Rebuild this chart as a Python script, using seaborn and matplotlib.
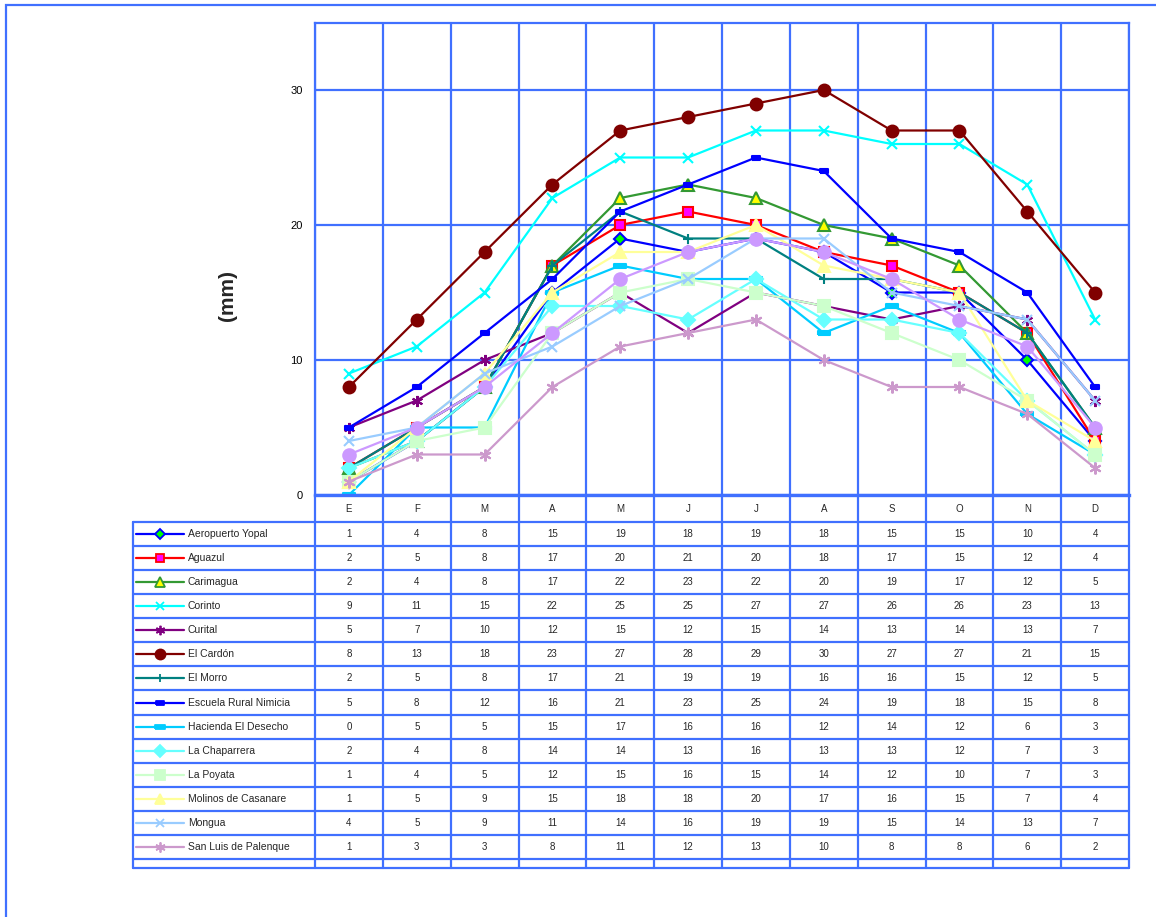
import numpy as np
import pandas as pd
import matplotlib
matplotlib.use("Agg")
import matplotlib.pyplot as plt
from matplotlib.lines import Line2D
import seaborn as sns

sns.set_theme(style="white")
plt.rcParams["font.family"] = ["Liberation Sans", "DejaVu Sans"]

# ---- data -------------------------------------------------------------
months = ["E", "F", "M", "A", "M", "J", "J", "A", "S", "O", "N", "D"]

aeropuerto_yopal = [1, 4, 8, 15, 19, 18, 19, 18, 15, 15, 10, 4]
aguazul = [2, 5, 8, 17, 20, 21, 20, 18, 17, 15, 12, 4]
carimagua = [2, 4, 8, 17, 22, 23, 22, 20, 19, 17, 12, 5]
corinto = [9, 11, 15, 22, 25, 25, 27, 27, 26, 26, 23, 13]
curital = [5, 7, 10, 12, 15, 12, 15, 14, 13, 14, 13, 7]
el_cardon = [8, 13, 18, 23, 27, 28, 29, 30, 27, 27, 21, 15]
el_morro = [2, 5, 8, 17, 21, 19, 19, 16, 16, 15, 12, 5]
escuela_nimicia = [5, 8, 12, 16, 21, 23, 25, 24, 19, 18, 15, 8]
hacienda_desecho = [0, 5, 5, 15, 17, 16, 16, 12, 14, 12, 6, 3]
la_chaparrera = [2, 4, 8, 14, 14, 13, 16, 13, 13, 12, 7, 3]
la_poyata = [1, 4, 5, 12, 15, 16, 15, 14, 12, 10, 7, 3]
molinos_casanare = [1, 5, 9, 15, 18, 18, 20, 17, 16, 15, 7, 4]
mongua = [4, 5, 9, 11, 14, 16, 19, 19, 15, 14, 13, 7]
san_luis_palenque = [1, 3, 3, 8, 11, 12, 13, 10, 8, 8, 6, 2]
sin_nombre = [3, 5, 8, 12, 16, 18, 19, 18, 16, 13, 11, 5]

station_names = [
    "Aeropuerto Yopal", "Aguazul", "Carimagua", "Corinto", "Curital",
    "El Cardón", "El Morro", "Escuela Rural Nimicia", "Hacienda El Desecho",
    "La Chaparrera", "La Poyata", "Molinos de Casanare", "Mongua",
    "San Luis de Palenque", "",
]
station_values = [
    aeropuerto_yopal, aguazul, carimagua, corinto, curital, el_cardon,
    el_morro, escuela_nimicia, hacienda_desecho, la_chaparrera, la_poyata,
    molinos_casanare, mongua, san_luis_palenque, sin_nombre,
]

# ---- styles -----------------------------------------------------------
dash_short = [(-1, -0.5), (1, -0.5), (1, 0.5), (-1, 0.5), (-1, -0.5)]
dash_long = [(-1, -0.3), (1, -0.3), (1, 0.3), (-1, 0.3), (-1, -0.3)]
asterisk = (6, 2, 0)

# (line colour, marker, size, face colour, edge colour)
styles = [
    ("#0000FF", "D", 6.5, "#00FF00", "#0000FF"),
    ("#FF0000", "s", 7.5, "#FF00FF", "#FF0000"),
    ("#339933", "^", 8.5, "#FFFF00", "#339933"),
    ("#00FFFF", "x", 7.5, "#00FFFF", "#00FFFF"),
    ("#800080", asterisk, 8.0, "#800080", "#800080"),
    ("#800000", "o", 8.5, "#800000", "#800000"),
    ("#008080", "+", 7.5, "#008080", "#008080"),
    ("#0000FF", dash_short, 6.0, "#0000FF", "#0000FF"),
    ("#00CCFF", dash_long, 9.0, "#00CCFF", "#00CCFF"),
    ("#66FFFF", "D", 7.5, "#66FFFF", "#66FFFF"),
    ("#CCFFCC", "s", 8.0, "#CCFFCC", "#CCFFCC"),
    ("#FFFF99", "^", 9.0, "#FFFF99", "#FFFF99"),
    ("#99CCFF", "x", 7.5, "#99CCFF", "#99CCFF"),
    ("#CC99CC", asterisk, 8.5, "#CC99CC", "#CC99CC"),
    ("#CC99FF", "o", 9.0, "#CC99FF", "#CC99FF"),
]

GRID = "#4070FF"
W, H = 1156, 917

# layout in pixels
PX_L, PX_R, PX_T, PX_B = 315, 1129, 22.5, 495
TBL_L, TBL_T = 133, 522
ROW_H = 24.07
LAST_ROW_H = 9.0
col_w = (PX_R - PX_L) / len(months)

fig = plt.figure(figsize=(W / 100, H / 100), dpi=100)
fig.patch.set_facecolor("white")

# overlay for frame and data table (pixel coordinates)
oax = fig.add_axes([0, 0, 1, 1], zorder=0)
oax.set_xlim(0, W)
oax.set_ylim(H, 0)
oax.axis("off")

# plot area
ax = fig.add_axes([PX_L / W, 1 - PX_B / H, (PX_R - PX_L) / W, (PX_B - PX_T) / H],
                  zorder=2)
ax.set_facecolor("none")

x_idx = np.arange(len(months))
for vals, (lc, mk, ms, fc, ec) in zip(station_values, styles):
    df = pd.DataFrame({"mes": x_idx, "mm": vals})
    sns.lineplot(data=df, x="mes", y="mm", ax=ax, color=lc, linewidth=1.6,
                 marker=mk, markersize=ms, markerfacecolor=fc,
                 markeredgecolor=ec, markeredgewidth=1.5, legend=False)

ax.set_xlim(-0.5, len(months) - 0.5)
ax.set_ylim(0, 35)
ax.set_xticks(np.arange(len(months) + 1) - 0.5)
ax.set_xticklabels([])
ax.set_yticks([0, 10, 20, 30])
ax.tick_params(axis="x", length=0)
ax.tick_params(axis="y", direction="out", length=5, width=1.5, color=GRID,
               labelsize=8, labelcolor="black", pad=4)
ax.grid(True, color=GRID, linewidth=1.6)
ax.set_axisbelow(True)
for sp in ax.spines.values():
    sp.set_visible(True)
    sp.set_color(GRID)
    sp.set_linewidth(1.6)
ax.spines["bottom"].set_linewidth(2.4)
ax.set_xlabel("")
ax.set_ylabel("")

fig.text(228 / W, 1 - 295 / H, "(mm)", rotation=90, ha="center", va="center",
         fontsize=15, fontweight="bold")

# outer frame
oax.plot([6, 6, W + 5], [H + 5, 5, 5], color=GRID, linewidth=1.6,
         solid_joinstyle="miter")

# data table
n_rows = len(station_names)
row_tops = [TBL_T + k * ROW_H for k in range(n_rows)]
tbl_bottom = row_tops[-1] + LAST_ROW_H
lw_t = 1.6

for k in range(len(months) + 1):
    xk = PX_L + k * col_w
    oax.plot([xk, xk], [PX_B, tbl_bottom], color=GRID, linewidth=lw_t)
oax.plot([TBL_L, TBL_L], [TBL_T, tbl_bottom], color=GRID, linewidth=lw_t)
for yk in row_tops + [tbl_bottom]:
    oax.plot([TBL_L, PX_R], [yk, yk], color=GRID, linewidth=lw_t)

for j, m in enumerate(months):
    oax.text(PX_L + (j + 0.5) * col_w, (PX_B + TBL_T) / 2 + 1, m,
             ha="center", va="center", fontsize=7)

for i, (name, vals, (lc, mk, ms, fc, ec)) in enumerate(
        zip(station_names, station_values, styles)):
    if not name:
        continue
    yc = row_tops[i] + ROW_H / 2
    oax.add_line(Line2D([136, 184], [yc, yc], color=lc, linewidth=1.6))
    oax.add_line(Line2D([160], [yc], marker=mk, markersize=ms * 0.85,
                        markerfacecolor=fc, markeredgecolor=ec,
                        markeredgewidth=1.3, linestyle="none"))
    oax.text(188, yc, name, ha="left", va="center", fontsize=7.5)
    for j, v in enumerate(vals):
        oax.text(PX_L + (j + 0.5) * col_w, yc, f"{v}", ha="center",
                 va="center", fontsize=7)

fig.savefig("out.png", dpi=100, facecolor="white")
